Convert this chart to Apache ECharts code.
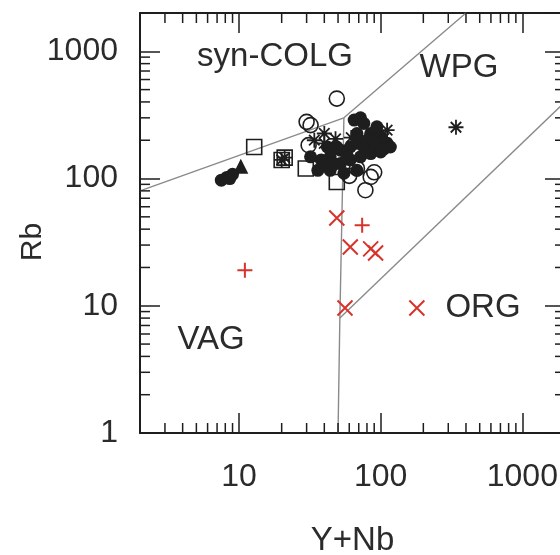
<!DOCTYPE html>
<html><head><meta charset="utf-8">
<script src="https://cdn.jsdelivr.net/npm/echarts@6/dist/echarts.min.js"></script>
<style>html,body{margin:0;padding:0;background:#fff}#c{width:560px;height:555px}</style>
</head><body><div id="c"></div>
<script>
// Axis ranges and tick values
const X_MIN = 2, X_MAX = 2000, Y_MIN = 1, Y_MAX = 2000;
const xMinorTicks = [3,4,5,6,7,8,9,20,30,40,50,60,70,80,90,200,300,400,500,600,700,800,900];
const yMinorTicks = [2,3,4,5,6,7,8,9,20,30,40,50,60,70,80,90,200,300,400,500,600,700,800,900];

// Field boundaries (Pearce et al., 1984)
const boundarySynColg = [[2,80],[55,300],[400,2000]];
const boundaryVagWpg = [[55,300],[51.5,8],[50,1]];
const boundaryOrg = [[51.5,8],[2000,400]];

// Samples: [Y+Nb, Rb]
const filledCircles = [
  [7.5,97],[8.2,102],[9.0,108],[8.6,100],
  [65,288],[72,300],[76,271],[68,226],[85,226],[100,213],[111,189],[94,177],[76,177],[61,177],
  [52,167],[44,148],[38,140],[32,148],[36,116],[44,116],[52,131],[61,140],[72,148],[85,157],
  [100,162],[55,110],[68,116],[49,177],[42,177],[117,177],[68,189],[80,200],[94,255],[58,150],
  [47,130],[40,128],[90,195],[105,170]
];
const filledTriangles = [[10.3,125]];
const openCircles = [[49,425],[30,279],[32,263],[31,183],[68,120],[85,103],[78,81],[90,112],[60,105]];
const openSquares = [[12.8,177],[29.6,120],[49,94],[20,140],[21,146]];
const asterisks = [[340,253],[111,240],[40,189],[34,200],[40,226],[105,206],[20,140],[21,146],[48,205],[62,210]];
const redCrosses = [[49,49],[61,29],[85,28],[92,26],[56,9.6],[180,9.6]];
const redPluses = [[74,43],[11,19]];

const regionLabels = [
  {text:'syn-COLG', x:275, y:57},
  {text:'WPG', x:459, y:68},
  {text:'ORG', x:483, y:308},
  {text:'VAG', x:211, y:340}
];

const INK = '#1e1e1e', TXT = '#2b2b2b', RED = '#d8332b', LINE = '#8a8a8a';
const FONT = 'Liberation Sans';
const MINOR_LEN = 10;

const ASTER = 'path://M0,-10L0,10M-10,0L10,0M-7,-7L7,7M-7,7L7,-7';
const XMARK = 'path://M0,0L10,10M10,0L0,10';
const PLUS = 'path://M5,0L5,10M0,5L10,5';

function axisBase(pos, showLabel){
  return {
    type:'log', logBase:10, position:pos,
    axisLine:{show:true, lineStyle:{color:INK, width:2}},
    axisTick:{show:true, inside:true, length:20, lineStyle:{color:INK, width:1.5}},
    splitLine:{show:false},
    axisLabel:{show:showLabel, fontSize:32, color:TXT, fontFamily:FONT, showMaxLabel:false,
      formatter: v => String(Math.round(v))}
  };
}
const xBottom = Object.assign(axisBase('bottom', true), {min:X_MIN, max:X_MAX,
  name:'Y+Nb', nameLocation:'middle', nameGap:91,
  nameTextStyle:{fontSize:33, color:TXT, fontFamily:FONT}});
xBottom.axisLabel.margin = 28; xBottom.axisLabel.showMinLabel = false;
const xTop = Object.assign(axisBase('top', false), {min:X_MIN, max:X_MAX});
const yLeft = Object.assign(axisBase('left', true), {min:Y_MIN, max:Y_MAX});
yLeft.axisLabel.margin = 22; yLeft.axisLabel.showMinLabel = true;
const yRight = Object.assign(axisBase('right', false), {min:Y_MIN, max:Y_MAX});

function lineSeries(data){
  return {type:'line', data:data, showSymbol:false, symbol:'none', silent:true, z:2,
    lineStyle:{color:LINE, width:1.4}, clip:true};
}
function scatter(data, symbol, size, fill, stroke, bw, z){
  return {type:'scatter', data:data, symbol:symbol, symbolSize:size, z:z||3, silent:true,
    itemStyle:{color:fill, borderColor:stroke, borderWidth:bw, opacity:1}};
}

const chart = echarts.init(document.getElementById('c'), null, {renderer:'canvas'});
chart.setOption({
  animation:false,
  backgroundColor:'#fff',
  grid:{left:140, top:13, right:-5, bottom:122, containLabel:false, outerBoundsMode:'none'},
  xAxis:[xBottom, xTop],
  yAxis:[yLeft, yRight],
  graphic: regionLabels.map(l => ({type:'text', x:l.x, y:l.y, z:10,
    style:{text:l.text, fill:TXT, font:'33px "'+FONT+'"', textAlign:'center', textVerticalAlign:'middle'}}))
    .concat([{type:'text', x:33, y:242, rotation:Math.PI/2, z:10,
      style:{text:'Rb', fill:TXT, font:'30px "'+FONT+'"', textAlign:'center', textVerticalAlign:'middle'}}]),
  series:[
    lineSeries(boundarySynColg),
    lineSeries(boundaryVagWpg),
    lineSeries(boundaryOrg),
    {type:'custom', silent:true, z:5, clip:false,
      data:xMinorTicks.map(v => [v, Y_MIN]),
      renderItem:(p, api) => {
        const v = api.value(0);
        const b = api.coord([v, Y_MIN]), t = api.coord([v, Y_MAX]);
        return {type:'group', children:[
          {type:'line', shape:{x1:b[0], y1:b[1], x2:b[0], y2:b[1]-MINOR_LEN}, style:{stroke:INK, lineWidth:1.5}},
          {type:'line', shape:{x1:t[0], y1:t[1], x2:t[0], y2:t[1]+MINOR_LEN}, style:{stroke:INK, lineWidth:1.5}}
        ]};
      }},
    {type:'custom', silent:true, z:5, clip:false,
      data:yMinorTicks.map(v => [X_MIN, v]),
      renderItem:(p, api) => {
        const v = api.value(1);
        const l = api.coord([X_MIN, v]), r = api.coord([X_MAX, v]);
        return {type:'group', children:[
          {type:'line', shape:{x1:l[0], y1:l[1], x2:l[0]+MINOR_LEN, y2:l[1]}, style:{stroke:INK, lineWidth:1.5}},
          {type:'line', shape:{x1:r[0], y1:r[1], x2:r[0]-MINOR_LEN, y2:r[1]}, style:{stroke:INK, lineWidth:1.5}}
        ]};
      }},
    scatter(openSquares, 'rect', 15, 'rgba(255,255,255,0)', INK, 1.6, 3),
    scatter(openCircles, 'circle', 15, 'rgba(255,255,255,0)', INK, 1.6, 3),
    scatter(filledCircles, 'circle', 13, INK, INK, 0, 4),
    scatter(filledTriangles, 'triangle', 15, INK, INK, 0, 4),
    scatter(asterisks, ASTER, 15, 'none', INK, 1.8, 4),
    scatter(redCrosses, XMARK, 15, 'none', RED, 2, 4),
    scatter(redPluses, PLUS, 15, 'none', RED, 2, 4)
  ]
});
</script>
</body></html>
